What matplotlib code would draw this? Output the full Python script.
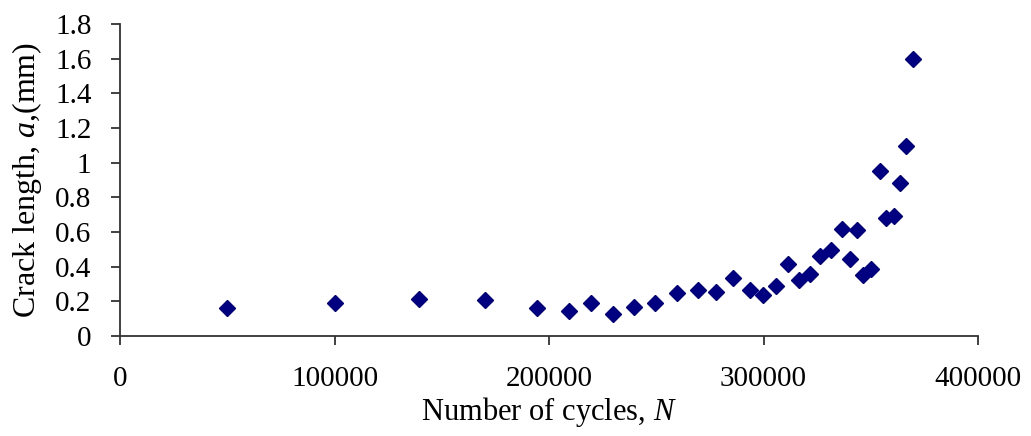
import matplotlib
matplotlib.use("Agg")
import matplotlib.pyplot as plt

# Crack growth data
cycles = [50000, 100000, 139500, 170000, 194500, 209500, 219600, 229800,
          239500, 249600, 259700, 269600, 277700, 285600, 293600, 299700,
          305700, 311600, 316500, 321700, 326500, 331600, 336600, 340500,
          343600, 346500, 349900, 354300, 357100, 360800, 363600, 366400,
          369500]
crack = [0.16, 0.19, 0.215, 0.205, 0.16, 0.146, 0.19, 0.125,
         0.17, 0.19, 0.246, 0.265, 0.252, 0.335, 0.265, 0.237,
         0.29, 0.415, 0.323, 0.356, 0.46, 0.496, 0.617, 0.447,
         0.612, 0.352, 0.387, 0.954, 0.68, 0.69, 0.885, 1.095,
         1.597]

xticks = [0, 100000, 200000, 300000, 400000]
yticks = [0, 0.2, 0.4, 0.6, 0.8, 1.0, 1.2, 1.4, 1.6, 1.8]
ylabels = ["0", "0.2", "0.4", "0.6", "0.8", "1", "1.2", "1.4", "1.6", "1.8"]

plt.rcParams["font.family"] = ["Liberation Serif", "DejaVu Serif"]
plt.rcParams["mathtext.fontset"] = "custom"
plt.rcParams["mathtext.rm"] = "Liberation Serif"
plt.rcParams["mathtext.it"] = "Liberation Serif:italic"

fig = plt.figure(figsize=(10.31, 4.36), dpi=100)
ax = fig.add_axes([0.1164, 0.2294, 0.8322, 0.7156])

ax.plot(cycles, crack, linestyle="none", marker="D", markersize=8,
        color="#000080")

ax.set_xlim(0, 400000)
ax.set_ylim(0, 1.8)
ax.set_xticks(xticks)
ax.set_xticklabels([str(t) for t in xticks])
ax.set_yticks(yticks)
ax.set_yticklabels(ylabels)

for side in ["top", "right"]:
    ax.spines[side].set_visible(False)
for side in ["left", "bottom"]:
    ax.spines[side].set_linewidth(1.3)
    ax.spines[side].set_color("#333333")
ax.tick_params(axis="both", direction="out", length=6.5, width=1.3,
               color="#333333", labelsize=21)
ax.tick_params(axis="x", pad=15)
ax.tick_params(axis="y", pad=14)

ax.set_xlabel("Number of cycles, $N$", fontsize=22, labelpad=2)
ax.set_ylabel("Crack length, $a$,(mm)", fontsize=23, labelpad=8)

fig.savefig("out.png", dpi=100)
